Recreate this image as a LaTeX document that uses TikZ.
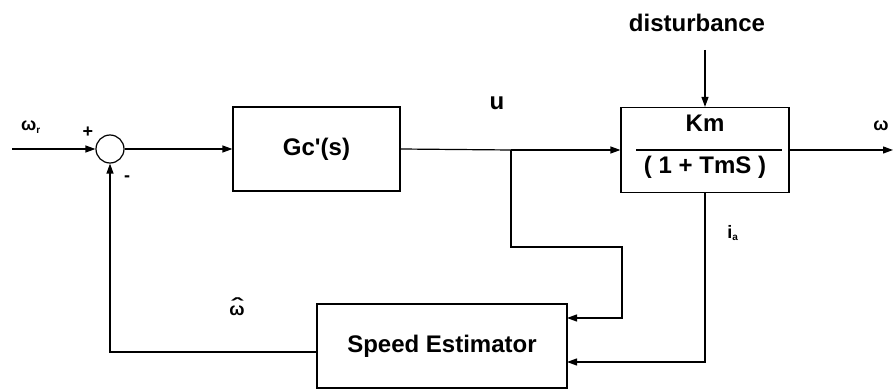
\documentclass[tikz,border=0pt]{standalone}
\usepackage{fontspec}
\usepackage{graphicx}
\setmainfont{Liberation Sans}
\usetikzlibrary{arrows.meta,calc}
\begin{document}
\begin{tikzpicture}[x=1pt,y=-1pt,
  line width=1.2pt,
  every node/.style={font=\fontsize{24}{28}\selectfont\bfseries, inner sep=0pt},
  blockbox/.style={draw, rectangle},
  sumnode/.style={draw, circle, minimum size=28pt},
  arr/.style={-{Triangle[length=10pt,width=7pt]}},
  smalllbl/.style={font=\fontsize{18}{20}\selectfont\bfseries}
]
\useasboundingbox (0,0) rectangle (894,390);
% blocks
\node[sumnode] (sum) at (110,149) {};
\node[blockbox, minimum width=167pt, minimum height=84pt] (gc) at (316.5,149) {Gc\textquotesingle(s)};
\node[blockbox, minimum width=168pt, minimum height=85pt] (plant) at (705,150) {};
\node (km) at (705,123) {Km};
\node (den) at (705,167) {( 1 + TmS )};
\draw[line width=1.4pt] ($(plant.west)+(16,0)$) coordinate (fl) -- ($(plant.east)+(-8,0)$) coordinate (fr);
\node[blockbox, minimum width=250pt, minimum height=84pt] (est) at (442,346) {Speed Estimator};
% labels
\node (dist) at (697,23) {disturbance};
\node (ulbl) at (497,103) {u};
\node[smalllbl] (wr) at (31,127) {ω\textsubscript{\fontsize{10}{11}\selectfont r}};
\node[smalllbl] (plus) at (88,132) {+};
\node[smalllbl] (minus) at (127,179) {-};
\node[smalllbl] (wout) at (881,126) {ω};
\node[smalllbl] (ia) at (733,233) {i\textsubscript{\fontsize{10}{11}\selectfont a}};
\node[smalllbl] (what) at (237,307) {\ooalign{\hfil\raisebox{3pt}{\scalebox{1.9}[1.1]{ˆ}}\hfil\cr ω\cr}};
% coordinates
\coordinate (in) at (12,149);
\coordinate (out) at (893,150);
\coordinate (dtop) at (705,50);
\coordinate (br) at (511,150);
\coordinate (b1) at (511,247);
\coordinate (b2) at (622,247);
\coordinate (b3) at (622,318);
\coordinate (e1) at (567,318);
\coordinate (ia1) at (705,362);
\coordinate (e2) at (567,362);
\coordinate (fb1) at (110,352);
% connectors
\draw[arr] (in) -- (sum.west);
\draw[arr] (sum.east) -- (gc.west);
\draw (gc.east) -- (br);
\draw[arr] (br) -- (plant.west);
\draw[arr] (plant.east) -- (out);
\draw[arr] (dtop) -- (plant.north);
\draw[arr] (br) -- (b1) -- (b2) -- (b3) -- (e1);
\draw[arr] (plant.south) -- (ia1) -- (e2);
\draw[arr] (est.west |- fb1) -- (fb1) -- (sum.south);
\end{tikzpicture}
\end{document}
